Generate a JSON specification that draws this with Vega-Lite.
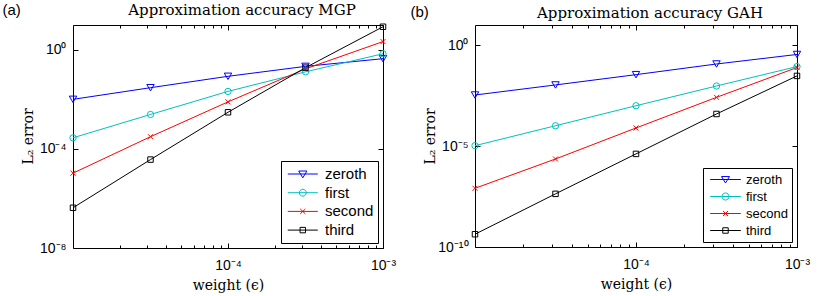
{
  "$schema": "https://vega.github.io/schema/vega-lite/v6.json",
  "padding": {"left": 2, "top": 2, "right": 0, "bottom": 0},
  "spacing": 13,
  "resolve": {"scale": {"color": "independent"}, "legend": {"color": "independent"}},
  "datasets": {
    "a": [
      {"series": "zeroth", "eps": 1e-5, "err": 0.01},
      {"series": "zeroth", "eps": 3.1623e-5, "err": 0.0295},
      {"series": "zeroth", "eps": 1e-4, "err": 0.085},
      {"series": "zeroth", "eps": 3.1623e-4, "err": 0.214},
      {"series": "zeroth", "eps": 1e-3, "err": 0.437},
      {"series": "first", "eps": 1e-5, "err": 0.00028},
      {"series": "first", "eps": 3.1623e-5, "err": 0.00245},
      {"series": "first", "eps": 1e-4, "err": 0.0209},
      {"series": "first", "eps": 3.1623e-4, "err": 0.129},
      {"series": "first", "eps": 1e-3, "err": 0.69},
      {"series": "second", "eps": 1e-5, "err": 1.05e-5},
      {"series": "second", "eps": 3.1623e-5, "err": 0.00031},
      {"series": "second", "eps": 1e-4, "err": 0.0079},
      {"series": "second", "eps": 3.1623e-4, "err": 0.17},
      {"series": "second", "eps": 1e-3, "err": 2.14},
      {"series": "third", "eps": 1e-5, "err": 4.2e-7},
      {"series": "third", "eps": 3.1623e-5, "err": 3.7e-5},
      {"series": "third", "eps": 1e-4, "err": 0.003},
      {"series": "third", "eps": 3.1623e-4, "err": 0.19},
      {"series": "third", "eps": 1e-3, "err": 8.5}
    ],
    "b": [
      {"series": "zeroth", "eps": 1e-5, "err": 0.0034},
      {"series": "zeroth", "eps": 3.1623e-5, "err": 0.0107},
      {"series": "zeroth", "eps": 1e-4, "err": 0.0347},
      {"series": "zeroth", "eps": 3.1623e-4, "err": 0.117},
      {"series": "zeroth", "eps": 1e-3, "err": 0.347},
      {"series": "first", "eps": 1e-5, "err": 1.05e-5},
      {"series": "first", "eps": 3.1623e-5, "err": 0.000102},
      {"series": "first", "eps": 1e-4, "err": 0.001},
      {"series": "first", "eps": 3.1623e-4, "err": 0.0095},
      {"series": "first", "eps": 1e-3, "err": 0.087},
      {"series": "second", "eps": 1e-5, "err": 8.1e-8},
      {"series": "second", "eps": 3.1623e-5, "err": 2.3e-6},
      {"series": "second", "eps": 1e-4, "err": 7.9e-5},
      {"series": "second", "eps": 3.1623e-4, "err": 0.0026},
      {"series": "second", "eps": 1e-3, "err": 0.078},
      {"series": "third", "eps": 1e-5, "err": 4.3e-10},
      {"series": "third", "eps": 3.1623e-5, "err": 4.3e-8},
      {"series": "third", "eps": 1e-4, "err": 4.1e-6},
      {"series": "third", "eps": 3.1623e-4, "err": 0.00039},
      {"series": "third", "eps": 1e-3, "err": 0.03}
    ]
  },
  "hconcat": [
    {
      "title": {"text": "(a)", "anchor": "start", "frame": "bounds", "offset": -15, "dx": -18, "font": "Liberation Sans", "fontSize": 15, "fontWeight": "normal", "color": "black"},
      "resolve": {"legend": {"color": "independent"}},
      "vconcat": [
        {
          "width": 310,
          "height": 223,
          "data": {"name": "a"},
          "title": {"text": "Approximation accuracy MGP", "offset": 4, "dx": 14},
          "layer": [
            {
              "mark": {"type": "line", "strokeWidth": 1, "clip": false},
              "encoding": {
                "x": {"field": "eps", "type": "quantitative", "scale": {"type": "log", "domain": [1e-5, 1e-3], "nice": false},
                  "axis": {"orient": "bottom", "values": [2e-5, 3e-5, 4e-5, 5e-5, 6e-5, 7e-5, 8e-5, 9e-5, 1e-4, 2e-4, 3e-4, 4e-4, 5e-4, 6e-4, 7e-4, 8e-4, 9e-4, 1e-3],
                    "labelExpr": "abs(datum.value - 1e-4) < 1e-6 ? '10⁻⁴' : (abs(datum.value - 1e-3) < 1e-5 ? '10⁻³' : '')",
                    "tickSize": {"condition": {"test": "abs(log(datum.value)/LN10 - round(log(datum.value)/LN10)) < 0.001", "value": -5}, "value": -3},
                    "labelPadding": 15, "title": "weight (ϵ)", "titlePadding": 4}},
                "y": {"field": "err", "type": "quantitative", "scale": {"type": "log", "domain": [1e-8, 10], "nice": false},
                  "axis": {"orient": "left", "values": [1e-8, 1e-4, 1],
                    "labelExpr": "'10' + replace(replace(replace(replace(replace(replace(replace('' + round(log(datum.value)/LN10), '-', '⁻'), '0', '⁰'), '1', '¹'), '4', '⁴'), '5', '⁵'), '8', '⁸'), '3', '³')",
                    "tickSize": -5, "labelPadding": 12, "title": "L₂ error", "titleX": -38, "titleY": 111, "titleBaseline": "bottom", "titleAngle": -90}},
                "color": {"field": "series", "type": "nominal",
                  "scale": {"domain": ["zeroth", "first", "second", "third"], "range": ["#0000ff", "#00bfbf", "#ff0000", "#000000"]},
                  "legend": {"title": null, "orient": "bottom-right", "offset": 5, "strokeColor": "black", "fillColor": "white", "padding": 4,
                    "labelFont": "Liberation Sans", "labelFontSize": 15, "labelColor": "black", "symbolSize": 289, "labelOffset": 22, "rowPadding": 1.7, "symbolStrokeWidth": 1,
                    "encode": {"symbols": {"update": {
                      "shape": {"signal": "datum.value === 'zeroth' ? 'M-0.73,0H2.8M0.55,-0.35H1.52L1.035,0.45Z' : datum.value === 'first' ? 'M-0.73,0H2.8M0.625,0A0.41,0.41,0,1,1,1.445,0A0.41,0.41,0,1,1,0.625,0' : datum.value === 'second' ? 'M-0.73,0H2.8M0.735,-0.3L1.335,0.3M0.735,0.3L1.335,-0.3' : 'M-0.73,0H2.8M0.715,-0.32H1.355V0.32H0.715Z'"},
                      "fill": {"value": "transparent"}
                    }}}}}
              }
            },
            {
              "transform": [{"filter": "datum.series === 'zeroth'"}],
              "mark": {"type": "point", "shape": "triangle-down", "size": 55, "filled": false, "strokeWidth": 1, "opacity": 1, "clip": false},
              "encoding": {
                "x": {"field": "eps", "type": "quantitative", "scale": {"type": "log", "domain": [1e-5, 1e-3], "nice": false},
                  "axis": {"orient": "top", "values": [2e-5, 3e-5, 4e-5, 5e-5, 6e-5, 7e-5, 8e-5, 9e-5, 1e-4, 2e-4, 3e-4, 4e-4, 5e-4, 6e-4, 7e-4, 8e-4, 9e-4, 1e-3],
                    "labels": false, "title": null,
                    "tickSize": {"condition": {"test": "abs(log(datum.value)/LN10 - round(log(datum.value)/LN10)) < 0.001", "value": -5}, "value": -3}}},
                "y": {"field": "err", "type": "quantitative", "scale": {"type": "log", "domain": [1e-8, 10], "nice": false},
                  "axis": {"orient": "right", "values": [1e-8, 1e-4, 1], "labels": false, "title": null, "tickSize": -5}},
                "color": {"field": "series", "type": "nominal"}
              }
            },
            {
              "transform": [{"filter": "datum.series === 'first'"}],
              "mark": {"type": "point", "shape": "circle", "size": 40, "filled": false, "strokeWidth": 1, "opacity": 1, "clip": false},
              "encoding": {
                "x": {"field": "eps", "type": "quantitative", "axis": null},
                "y": {"field": "err", "type": "quantitative", "axis": null},
                "color": {"field": "series", "type": "nominal"}
              }
            },
            {
              "transform": [{"filter": "datum.series === 'second'"}],
              "mark": {"type": "point", "shape": "M-1,-1L1,1M-1,1L1,-1", "size": 25, "filled": false, "strokeWidth": 1, "opacity": 1, "clip": false},
              "encoding": {
                "x": {"field": "eps", "type": "quantitative", "axis": null},
                "y": {"field": "err", "type": "quantitative", "axis": null},
                "color": {"field": "series", "type": "nominal"}
              }
            },
            {
              "transform": [{"filter": "datum.series === 'third'"}],
              "mark": {"type": "point", "shape": "square", "size": 30, "filled": false, "strokeWidth": 1, "opacity": 1, "clip": false},
              "encoding": {
                "x": {"field": "eps", "type": "quantitative", "axis": null},
                "y": {"field": "err", "type": "quantitative", "axis": null},
                "color": {"field": "series", "type": "nominal"}
              }
            }
          ],
          "resolve": {"axis": {"x": "independent", "y": "independent"}}
        }
      ]
    },
    {
      "title": {"text": "(b)", "anchor": "start", "frame": "bounds", "offset": -15, "dx": -12, "font": "Liberation Sans", "fontSize": 15, "fontWeight": "normal", "color": "black"},
      "resolve": {"legend": {"color": "independent"}},
      "vconcat": [
        {
          "width": 322,
          "height": 222,
          "data": {"name": "b"},
          "title": {"text": "Approximation accuracy GAH", "offset": 4, "dx": 14},
          "layer": [
            {
              "mark": {"type": "line", "strokeWidth": 1, "clip": false},
              "encoding": {
                "x": {"field": "eps", "type": "quantitative", "scale": {"type": "log", "domain": [1e-5, 1e-3], "nice": false},
                  "axis": {"orient": "bottom", "values": [2e-5, 3e-5, 4e-5, 5e-5, 6e-5, 7e-5, 8e-5, 9e-5, 1e-4, 2e-4, 3e-4, 4e-4, 5e-4, 6e-4, 7e-4, 8e-4, 9e-4, 1e-3],
                    "labelExpr": "abs(datum.value - 1e-4) < 1e-6 ? '10⁻⁴' : (abs(datum.value - 1e-3) < 1e-5 ? '10⁻³' : '')",
                    "tickSize": {"condition": {"test": "abs(log(datum.value)/LN10 - round(log(datum.value)/LN10)) < 0.001", "value": -5}, "value": -3},
                    "labelPadding": 15, "title": "weight (ϵ)", "titlePadding": 4}},
                "y": {"field": "err", "type": "quantitative", "scale": {"type": "log", "domain": [1e-10, 10], "nice": false},
                  "axis": {"orient": "left", "values": [1e-10, 1e-5, 1],
                    "labelExpr": "'10' + replace(replace(replace(replace(replace(replace(replace('' + round(log(datum.value)/LN10), '-', '⁻'), '0', '⁰'), '1', '¹'), '4', '⁴'), '5', '⁵'), '8', '⁸'), '3', '³')",
                    "tickSize": -5, "labelPadding": 12, "title": "L₂ error", "titleX": -38, "titleY": 111, "titleBaseline": "bottom", "titleAngle": -90}},
                "color": {"field": "series", "type": "nominal",
                  "scale": {"domain": ["zeroth", "first", "second", "third"], "range": ["#0000ff", "#00bfbf", "#ff0000", "#000000"]},
                  "legend": {"title": null, "orient": "bottom-right", "offset": 5, "strokeColor": "black", "fillColor": "white", "padding": 4,
                    "labelFont": "Liberation Sans", "labelFontSize": 13, "labelColor": "black", "symbolSize": 196, "labelOffset": 24, "rowPadding": 2, "symbolStrokeWidth": 1,
                    "encode": {"symbols": {"update": {
                      "shape": {"signal": "datum.value === 'zeroth' ? 'M-0.614,0H3.76M1.0,-0.42H2.14L1.57,0.5Z' : datum.value === 'first' ? 'M-0.614,0H3.76M1.07,0A0.5,0.5,0,1,1,2.07,0A0.5,0.5,0,1,1,1.07,0' : datum.value === 'second' ? 'M-0.614,0H3.76M1.21,-0.36L1.93,0.36M1.21,0.36L1.93,-0.36' : 'M-0.614,0H3.76M1.18,-0.39H1.96V0.39H1.18Z'"},
                      "fill": {"value": "transparent"}
                    }}}}}
              }
            },
            {
              "transform": [{"filter": "datum.series === 'zeroth'"}],
              "mark": {"type": "point", "shape": "triangle-down", "size": 55, "filled": false, "strokeWidth": 1, "opacity": 1, "clip": false},
              "encoding": {
                "x": {"field": "eps", "type": "quantitative", "scale": {"type": "log", "domain": [1e-5, 1e-3], "nice": false},
                  "axis": {"orient": "top", "values": [2e-5, 3e-5, 4e-5, 5e-5, 6e-5, 7e-5, 8e-5, 9e-5, 1e-4, 2e-4, 3e-4, 4e-4, 5e-4, 6e-4, 7e-4, 8e-4, 9e-4, 1e-3],
                    "labels": false, "title": null,
                    "tickSize": {"condition": {"test": "abs(log(datum.value)/LN10 - round(log(datum.value)/LN10)) < 0.001", "value": -5}, "value": -3}}},
                "y": {"field": "err", "type": "quantitative", "scale": {"type": "log", "domain": [1e-10, 10], "nice": false},
                  "axis": {"orient": "right", "values": [1e-10, 1e-5, 1], "labels": false, "title": null, "tickSize": -5}},
                "color": {"field": "series", "type": "nominal"}
              }
            },
            {
              "transform": [{"filter": "datum.series === 'first'"}],
              "mark": {"type": "point", "shape": "circle", "size": 40, "filled": false, "strokeWidth": 1, "opacity": 1, "clip": false},
              "encoding": {
                "x": {"field": "eps", "type": "quantitative", "axis": null},
                "y": {"field": "err", "type": "quantitative", "axis": null},
                "color": {"field": "series", "type": "nominal"}
              }
            },
            {
              "transform": [{"filter": "datum.series === 'second'"}],
              "mark": {"type": "point", "shape": "M-1,-1L1,1M-1,1L1,-1", "size": 25, "filled": false, "strokeWidth": 1, "opacity": 1, "clip": false},
              "encoding": {
                "x": {"field": "eps", "type": "quantitative", "axis": null},
                "y": {"field": "err", "type": "quantitative", "axis": null},
                "color": {"field": "series", "type": "nominal"}
              }
            },
            {
              "transform": [{"filter": "datum.series === 'third'"}],
              "mark": {"type": "point", "shape": "square", "size": 30, "filled": false, "strokeWidth": 1, "opacity": 1, "clip": false},
              "encoding": {
                "x": {"field": "eps", "type": "quantitative", "axis": null},
                "y": {"field": "err", "type": "quantitative", "axis": null},
                "color": {"field": "series", "type": "nominal"}
              }
            }
          ],
          "resolve": {"axis": {"x": "independent", "y": "independent"}}
        }
      ]
    }
  ],
  "config": {
    "view": {"stroke": "black", "strokeWidth": 1},
    "axis": {"domain": false, "grid": false, "labelFont": "Liberation Sans", "labelFontSize": 14, "labelColor": "black", "tickColor": "black", "tickWidth": 1,
      "titleFont": "DejaVu Serif", "titleFontSize": 14, "titleFontWeight": "normal", "titleColor": "black", "labelOverlap": false, "labelFlush": false, "labelBound": false},
    "title": {"font": "DejaVu Serif", "fontSize": 15, "fontWeight": "normal", "color": "black"}
  }
}
